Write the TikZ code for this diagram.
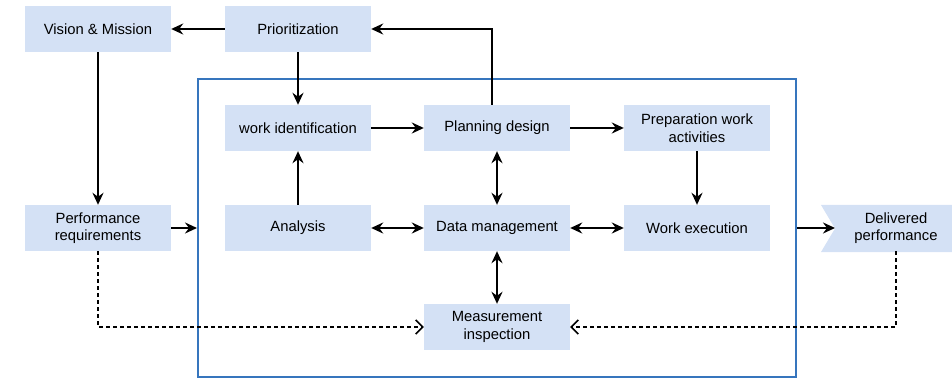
\documentclass[tikz,border=0pt]{standalone}
\usepackage{fontspec}
\setmainfont{Liberation Sans}
\usetikzlibrary{arrows.meta}
\definecolor{boxfill}{HTML}{D4E1F5}
\definecolor{frameblue}{RGB}{54,117,189}
\begin{document}
\begin{tikzpicture}[x=1pt,y=-1pt,
  font=\fontsize{14.8}{17.5}\selectfont,
  box/.style={rectangle, fill=boxfill, minimum width=146pt, minimum height=46pt,
    inner sep=0pt, align=center, text=black},
  link/.style={line width=2pt, -{Stealth[length=12pt,width=11pt,inset=4pt]}},
  bilink/.style={line width=2pt, {Stealth[length=12pt,width=11pt,inset=4pt]}-{Stealth[length=12pt,width=11pt,inset=4pt]}},
  feedback/.style={line width=2pt, dash pattern=on 4pt off 3pt,
    -{Straight Barb[length=7pt,width=14pt,line width=1.6pt]}}]
\useasboundingbox (0,0) rectangle (952,379);

% process boundary
\node[draw=frameblue, line width=2pt, minimum width=598pt, minimum height=298pt,
  inner sep=0pt] (frame) at (497,228) {};

% top row
\node[box] (vision) at (98,29) {Vision \& Mission};
\node[box] (prio) at (298,29) {Prioritization};

% inner process
\node[box] (workid) at (298,128) {work identification};
\node[box] (plan) at (497,128) {Planning design};
\node[box] (prep) at (697,128) {Preparation work\\activities};
\node[box] (analysis) at (298,228) {Analysis};
\node[box] (data) at (497,228) {Data management};
\node[box] (exec) at (697,228) {Work execution};
\node[box] (meas) at (497,327) {Measurement\\inspection};

% requirements and delivered output
\node[box] (perf) at (98,228) {Performance\\requirements};
\fill[boxfill] (821,205) -- (960,205) -- (960,252) -- (821,252) -- (835,228.5) -- cycle;
\coordinate (dpnotch) at (835,228);
\node[minimum width=150pt, minimum height=46pt, inner sep=0pt, align=center]
  (deliv) at (896,228) {Delivered\\performance};

% connectors
\draw[link] (prio) -- (vision);
\draw[link] (prio) -- (workid);
\draw[link] (vision) -- (perf);
\draw[link] ([xshift=-5pt]plan.north) |- (prio.east);
\draw[link] (perf) -- (frame.west);
\draw[link] (workid) -- (plan);
\draw[link] (plan) -- (prep);
\draw[link] (analysis) -- (workid);
\draw[link] (prep) -- (exec);
\draw[bilink] (analysis) -- (data);
\draw[bilink] (plan) -- (data);
\draw[bilink] (data) -- (exec);
\draw[bilink] (data) -- (meas);
\draw[link] (frame.east) -- (dpnotch);

% feedback paths
\draw[feedback] (perf.south) |- (meas.west);
\draw[feedback] (deliv.south) |- (meas.east);
\end{tikzpicture}
\end{document}
